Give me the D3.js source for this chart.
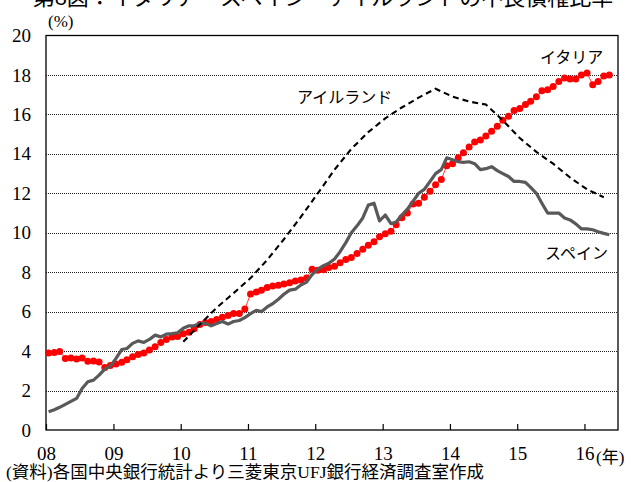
<!DOCTYPE html>
<html>
<head>
<meta charset="utf-8">
<script src="https://cdn.jsdelivr.net/npm/d3@7/dist/d3.min.js"></script>
<style>
  body { margin: 0; background: #fff; }
  svg { display: block; }
</style>
</head>
<body>
<script>
// 第8図 data, monthly from Jan 2008 (Ireland quarterly)
const yearLabels = ['08', '09', '10', '11', '12', '13', '14', '15', '16']
const yTicks = [0, 2, 4, 6, 8, 10, 12, 14, 16, 18, 20]

const italy = [
  3.91, 3.93, 3.98, 3.63, 3.65, 3.6, 3.65, 3.48, 3.5, 3.45,
  3.17, 3.27, 3.34, 3.43, 3.56, 3.71, 3.83, 3.91, 4.05, 4.22,
  4.44, 4.59, 4.71, 4.74, 4.88, 4.96, 5.13, 5.35, 5.45, 5.5,
  5.6, 5.71, 5.8, 5.9, 5.9, 6.13, 6.89, 6.99, 7.09, 7.22,
  7.3, 7.34, 7.4, 7.47, 7.56, 7.6, 7.7, 8.15, 8.1, 8.13,
  8.24, 8.3, 8.48, 8.65, 8.75, 8.95, 9.16, 9.37, 9.55, 9.8,
  9.95, 10.07, 10.4, 10.76, 11.0, 11.46, 11.5, 11.8, 12.1, 12.43,
  12.7, 13.4, 13.5, 13.8, 14.06, 14.35, 14.6, 14.7, 14.9, 15.15,
  15.4, 15.7, 15.9, 16.2, 16.3, 16.5, 16.67, 16.9, 17.2, 17.25,
  17.42, 17.67, 17.84, 17.8, 17.8, 18.0, 18.1, 17.5, 17.67, 17.95,
  18.0
]

const spain = [
  0.93, 1.03, 1.15, 1.3, 1.45, 1.6, 2.1, 2.45, 2.53, 2.78,
  3.09, 3.24, 3.63, 4.08, 4.13, 4.39, 4.52, 4.44, 4.59, 4.81,
  4.72, 4.86, 4.89, 4.93, 5.16, 5.28, 5.28, 5.4, 5.42, 5.28,
  5.4, 5.5, 5.37, 5.5, 5.55, 5.7, 5.9, 6.07, 6.0, 6.24,
  6.4, 6.63, 6.88, 7.09, 7.14, 7.35, 7.5, 7.88, 8.16, 8.33,
  8.45, 8.67, 9.04, 9.5, 10.0, 10.35, 10.75, 11.4, 11.5, 10.6,
  10.9, 10.46, 10.55, 10.9, 11.2, 11.6, 12.0, 12.2, 12.6, 13.0,
  13.2, 13.8, 13.7, 13.6, 13.57, 13.6, 13.5, 13.2, 13.25, 13.35,
  13.15, 13.0, 12.85, 12.6, 12.6, 12.55, 12.3, 12.0, 11.5, 11.0,
  11.0, 11.0, 10.75, 10.65, 10.45, 10.2, 10.2, 10.15, 10.05, 9.97,
  9.9
]

// quarterly, first value = Jan 2010
const irelandStart = 24
const irelandStep = 3
const ireland = [
  4.47, 5.35, 6.2, 6.94, 7.7, 8.62, 9.67, 10.8, 12.0, 13.2,
  14.25, 15.1, 15.8, 16.35, 16.85, 17.3, 16.9, 16.65, 16.5, 15.7,
  14.8, 14.1, 13.5, 12.8, 12.2, 11.8
]

// -----------------------------------------------------------------------------

var width = 632
var height = 482
var margin = {left: 46, right: 14, top: 35.5, bottom: 52}

var serif = '"Liberation Serif", "Times New Roman", "Noto Sans CJK JP", serif'
var gothic = '"Noto Sans CJK JP", sans-serif'

var svg = d3.select('body').append('svg')
    .attr('width', width)
    .attr('height', height)

const monthDate = m => new Date(2008, m, 15)

var x = d3.scaleTime()
    .domain([new Date(2008, 0, 1), new Date(2016, 6, 1)])
    .range([margin.left, width - margin.right])

var y = d3.scaleLinear()
    .domain([0, 20])
    .range([height - margin.bottom, margin.top])

// title (cut at the top in the original)
svg.append('text')
    .attr('x', 323)
    .attr('y', 5)
    .attr('text-anchor', 'middle')
    .style('font-family', gothic)
    .style('font-size', '22px')
    .text('第8図：イタリア・スペイン・アイルランドの不良債権比率')

// gridlines
svg.append('g')
  .selectAll('line')
  .data(yTicks.slice(1, -1))
  .enter().append('line')
    .attr('x1', x.range()[0])
    .attr('x2', x.range()[1])
    .attr('y1', d => Math.round(y(d)) + 0.5)
    .attr('y2', d => Math.round(y(d)) + 0.5)
    .attr('stroke', '#222')
    .attr('stroke-width', 1)
    .attr('stroke-dasharray', '1,1')

// frame
svg.append('rect')
    .attr('x', x.range()[0])
    .attr('y', y(20))
    .attr('width', x.range()[1] - x.range()[0])
    .attr('height', y(0) - y(20))
    .attr('fill', 'none')
    .attr('stroke', '#000')
    .attr('stroke-width', 1.3)

// x axis: ticks pointing up, labels below
var years = yearLabels.map((d, i) => new Date(2008 + i, 0, 1))
var xAxis = d3.axisBottom(x)
    .tickValues(years)
    .tickSize(-6)
    .tickFormat((d, i) => yearLabels[i])

var gx = svg.append('g')
    .attr('transform', 'translate(0,' + y(0) + ')')
    .call(xAxis)
gx.select('.domain').remove()
gx.selectAll('.tick line').attr('stroke', '#000').attr('stroke-width', 1.2)
gx.selectAll('.tick text')
    .attr('y', 30)
    .attr('dy', null)
    .attr('fill', '#000')
    .style('font-family', serif)
    .style('font-size', '19px')

svg.append('text')
    .attr('x', 596)
    .attr('y', 463)
    .style('font-family', serif)
    .style('font-size', '17px')
    .text('(年)')

// y axis labels
var yAxis = d3.axisLeft(y)
    .tickValues(yTicks)
    .tickSize(0)
    .tickPadding(15)

var gy = svg.append('g')
    .attr('transform', 'translate(' + x.range()[0] + ',0)')
    .call(yAxis)
gy.select('.domain').remove()
gy.selectAll('.tick text')
    .attr('fill', '#000')
    .style('font-family', serif)
    .style('font-size', '19px')

svg.append('text')
    .attr('x', 48)
    .attr('y', 27)
    .style('font-family', serif)
    .style('font-size', '17px')
    .text('(%)')

// series
var line = d3.line()
    .x(d => x(d.date))
    .y(d => y(d.value))

const italyData = italy.map((v, i) => ({date: monthDate(i), value: v}))
const spainData = spain.map((v, i) => ({date: monthDate(i), value: v}))
const irelandData = ireland.map((v, i) => ({date: monthDate(irelandStart + i * irelandStep), value: v}))

svg.append('path')
    .datum(italyData)
    .attr('d', line)
    .attr('fill', 'none')
    .attr('stroke', '#ff0000')
    .attr('stroke-width', 0.8)

svg.append('g')
  .selectAll('circle')
  .data(italyData)
  .enter().append('circle')
    .attr('cx', d => x(d.date))
    .attr('cy', d => y(d.value))
    .attr('r', 3.5)
    .attr('fill', '#ff0000')

svg.append('path')
    .datum(spainData)
    .attr('d', line)
    .attr('fill', 'none')
    .attr('stroke', '#595959')
    .attr('stroke-width', 3.2)
    .attr('stroke-linejoin', 'round')

svg.append('path')
    .datum(irelandData)
    .attr('d', line)
    .attr('fill', 'none')
    .attr('stroke', '#000')
    .attr('stroke-width', 2.1)
    .attr('stroke-dasharray', '6,4')

// series labels
const seriesLabels = [
  {text: 'イタリア', x: 540, y: 63},
  {text: 'アイルランド', x: 297, y: 103},
  {text: 'スペイン', x: 545, y: 259}
]
svg.append('g')
  .selectAll('text')
  .data(seriesLabels)
  .enter().append('text')
    .attr('x', d => d.x)
    .attr('y', d => d.y)
    .style('font-family', gothic)
    .style('font-size', '16px')
    .text(d => d.text)

// source note
svg.append('text')
    .attr('x', 6)
    .attr('y', 478)
    .style('font-family', serif)
    .style('font-size', '17.5px')
    .text('(資料)各国中央銀行統計より三菱東京UFJ銀行経済調査室作成')
</script>
</body>
</html>
